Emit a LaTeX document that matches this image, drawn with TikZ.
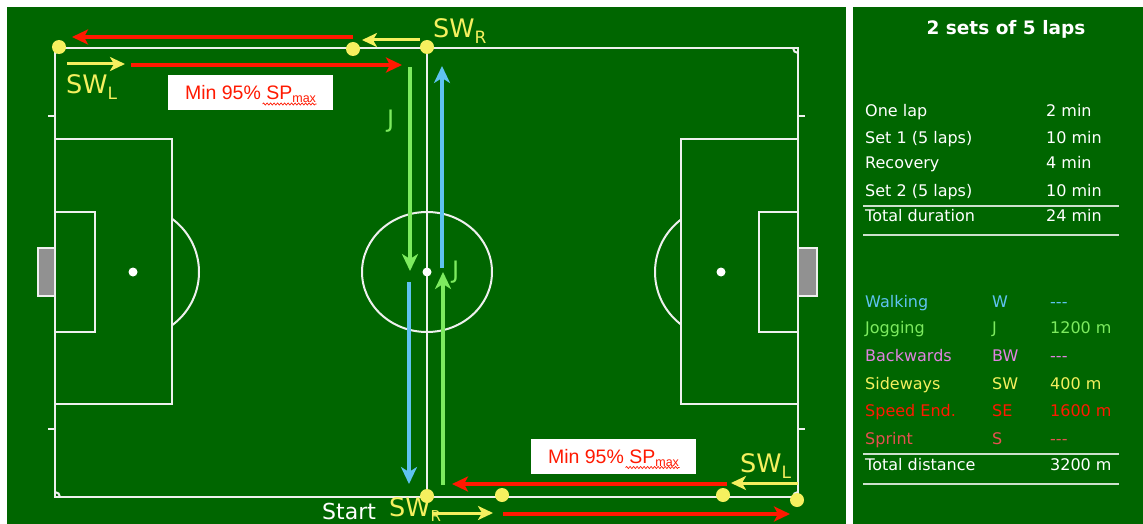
\documentclass[tikz,border=0pt]{standalone}
\usepackage{fontspec}
\setmainfont{DejaVu Sans}
\newfontfamily\arialfont{Liberation Sans}
\usetikzlibrary{arrows.meta,positioning,decorations.pathmorphing}

\definecolor{pitchgreen}{RGB}{0,102,0}
\definecolor{linewhite}{RGB}{238,240,238}
\definecolor{goalgrey}{RGB}{145,145,145}
\definecolor{walkblue}{RGB}{95,195,240}
\definecolor{joggreen}{RGB}{125,235,95}
\definecolor{bwviolet}{RGB}{225,130,225}
\definecolor{swyellow}{RGB}{245,240,95}
\definecolor{sered}{RGB}{255,25,0}
\definecolor{sprintred}{RGB}{230,80,80}
\definecolor{rulegrey}{RGB}{205,225,205}

\newcommand{\swlabel}[1]{SW\raisebox{-6pt}{\fontsize{17}{17}\selectfont #1}}
\newcommand{\minspeed}{\arialfont\fontsize{19.5}{23}\selectfont\color{sered}Min 95\% SP\raisebox{-3pt}{\fontsize{12.5}{12.5}\selectfont max}}

\tikzset{
	pitchline/.style={draw=linewhite, line width=2pt},
	sprintarrow/.style={draw=sered, line width=4pt, -{Stealth[length=16pt,width=15pt,inset=4pt]}},
	sidearrow/.style={draw=swyellow, line width=3pt, -{Stealth[length=15pt,width=14pt,inset=4pt]}},
	jogarrow/.style={draw=joggreen, line width=3.5pt, -{Stealth[length=17pt,width=16pt,inset=5pt]}},
	walkarrow/.style={draw=walkblue, line width=3.5pt, -{Stealth[length=17pt,width=16pt,inset=5pt]}},
	cone/.style={circle, fill=swyellow, inner sep=0pt, minimum size=14pt},
	minbox/.style={fill=white, inner sep=0pt, minimum width=165pt, minimum height=35pt, text height=16pt, text depth=1pt},
	squiggle/.style={draw=sered, line width=0.7pt, decorate, decoration={snake, amplitude=1pt, segment length=3.5pt}},
	fieldtext/.style={anchor=base west, inner sep=0pt, font=\fontsize{25.5}{30}\selectfont},
	panelrow/.style={anchor=base west, inner sep=0pt, text=white, font=\fontsize{16}{19}\selectfont},
	panelrule/.style={draw=rulegrey, line width=1.2pt}
}

\begin{document}
\begin{tikzpicture}[x=1pt,y=-1pt]
	\useasboundingbox (0,0) rectangle (1143,524);
	\fill[white] (0,0) rectangle (1143,524);
	\fill[pitchgreen] (7,7) rectangle (846,524);
	\fill[pitchgreen] (853,7) rectangle (1143,524);

	% pitch
	\fill[goalgrey,draw=linewhite,line width=1.5pt] (38,248) rectangle (55,296);
	\fill[goalgrey,draw=linewhite,line width=1.5pt] (798,248) rectangle (817,296);
	\draw[pitchline] (55,48) rectangle (798,497);
	\draw[pitchline] (427,48) -- (427,497);
	\draw[pitchline] (427,272) ellipse [x radius=65, y radius=60];
	\draw[pitchline] (55,139) rectangle (172,404);
	\draw[pitchline] (55,212) rectangle (95,332);
	\draw[pitchline] (681,139) rectangle (798,404);
	\draw[pitchline] (759,212) rectangle (798,332);
	\draw[pitchline] (48,116) -- (55,116);
	\draw[pitchline] (48,429) -- (55,429);
	\draw[pitchline] (798,116) -- (805,116);
	\draw[pitchline] (798,429) -- (805,429);
	\begin{scope}
		\clip (172,0) rectangle (300,524);
		\draw[pitchline] (133,272) circle [radius=66];
	\end{scope}
	\begin{scope}
		\clip (560,0) rectangle (681,524);
		\draw[pitchline] (721,272) circle [radius=66];
	\end{scope}
	\begin{scope}
		\clip (55,48) rectangle (798,497);
		\draw[pitchline] (55,48) circle [radius=5];
		\draw[pitchline] (798,48) circle [radius=5];
		\draw[pitchline] (55,497) circle [radius=5];
		\draw[pitchline] (798,497) circle [radius=5];
	\end{scope}
	\fill[white] (427,272) circle [radius=4.5];
	\fill[white] (133,272) circle [radius=4.5];
	\fill[white] (721,272) circle [radius=4.5];

	% boxes
	\node[minbox] (boxTop) at (250.5,92.5) {\minspeed};
	\node[minbox] (boxBot) at (613.5,456) {\minspeed};
	\draw[squiggle] ([shift={(12,11.5)}]boxTop.center) -- ([shift={(66,11.5)}]boxTop.center);
	\draw[squiggle] ([shift={(12,11.5)}]boxBot.center) -- ([shift={(66,11.5)}]boxBot.center);

	% runs
	\coordinate (redTopS) at (353,37);
	\coordinate (redTopE) at (72,37);
	\coordinate (swTopS) at (420,40);
	\coordinate (swTopE) at (362,40);
	\coordinate (swLeftS) at (67,64);
	\coordinate (swLeftE) at (125,64);
	\coordinate (redMidS) at (131,65);
	\coordinate (redMidE) at (402,65);
	\coordinate (jogTopS) at (410,67);
	\coordinate (jogTopE) at (410,271);
	\coordinate (walkUpS) at (442,268);
	\coordinate (walkUpE) at (442,66);
	\coordinate (walkDnS) at (409,282);
	\coordinate (walkDnE) at (409,484);
	\coordinate (jogUpS) at (443,485);
	\coordinate (jogUpE) at (443,272);
	\coordinate (redBotS) at (727,484);
	\coordinate (redBotE) at (452,484);
	\coordinate (swBotS) at (798,483);
	\coordinate (swBotE) at (731,483);
	\coordinate (swStartS) at (433,513);
	\coordinate (swStartE) at (493,513);
	\coordinate (redEndS) at (503,514);
	\coordinate (redEndE) at (790,514);

	\draw[sprintarrow] (redTopS) -- (redTopE);
	\draw[sidearrow] (swTopS) -- (swTopE);
	\draw[sidearrow] (swLeftS) -- (swLeftE);
	\draw[sprintarrow] (redMidS) -- (redMidE);
	\draw[jogarrow] (jogTopS) -- (jogTopE);
	\draw[walkarrow] (walkUpS) -- (walkUpE);
	\draw[walkarrow] (walkDnS) -- (walkDnE);
	\draw[jogarrow] (jogUpS) -- (jogUpE);
	\draw[sprintarrow] (redBotS) -- (redBotE);
	\draw[sidearrow] (swBotS) -- (swBotE);
	\draw[sidearrow] (swStartS) -- (swStartE);
	\draw[sprintarrow] (redEndS) -- (redEndE);

	\node[cone] (dotTL) at (59,47) {};
	\node[cone] (dotTM) at (353,49) {};
	\node[cone] (dotTR) at (427,47) {};
	\node[cone] (dotBL) at (427,496) {};
	\node[cone] (dotBM) at (502,495) {};
	\node[cone] (dotBR) at (723,495) {};
	\node[cone] (dotBC) at (797,500) {};

	% field labels
	\node[fieldtext,text=swyellow] (swrTop) at (433,38) {\swlabel{R}};
	\node[fieldtext,text=swyellow] (swlTop) at (66,94) {\swlabel{L}};
	\node[fieldtext,text=swyellow] (swlBot) at (740,472) {\swlabel{L}};
	\node[fieldtext,text=white,font=\fontsize{22}{26}\selectfont] (start) at (322,519) {Start};
	\node[fieldtext,text=swyellow] (swrBot) at (389,516) {SW\raisebox{-5pt}{\fontsize{15}{15}\selectfont R}};
	\node[fieldtext,text=joggreen,font=\fontsize{24}{28}\selectfont] (jTop) at (387,128) {J};
	\node[fieldtext,text=joggreen,font=\fontsize{24}{28}\selectfont] (jMid) at (452,278) {J};

	% panel
	\node[anchor=base, inner sep=0pt, text=white, font=\fontsize{18.5}{22}\selectfont\bfseries] (title) at (1006,35) {2 sets of 5 laps};
	\node[panelrow] (lap) at (865,117) {One lap};
	\node[panelrow] (lapT) at (1046,117) {2 min};
	\node[panelrow] (set1) at (865,143) {Set 1 (5 laps)};
	\node[panelrow] (set1T) at (1046,143) {10 min};
	\node[panelrow] (rec) at (865,168) {Recovery};
	\node[panelrow] (recT) at (1046,168) {4 min};
	\node[panelrow] (set2) at (865,196) {Set 2 (5 laps)};
	\node[panelrow] (set2T) at (1046,196) {10 min};
	\draw[panelrule] (863,206) -- (1119,206);
	\node[panelrow] (dur) at (865,221) {Total duration};
	\node[panelrow] (durT) at (1046,221) {24 min};
	\draw[panelrule] (863,235) -- (1119,235);

	\node[panelrow,text=walkblue] (walk) at (865,307) {Walking};
	\node[panelrow,text=walkblue] (walkA) at (992,307) {W};
	\node[panelrow,text=walkblue] (walkD) at (1050,307) {-{}-{}-};
	\node[panelrow,text=joggreen] (jog) at (865,333) {Jogging};
	\node[panelrow,text=joggreen] (jogA) at (992,333) {J};
	\node[panelrow,text=joggreen] (jogD) at (1050,333) {1200 m};
	\node[panelrow,text=bwviolet] (bw) at (865,361) {Backwards};
	\node[panelrow,text=bwviolet] (bwA) at (992,361) {BW};
	\node[panelrow,text=bwviolet] (bwD) at (1050,361) {-{}-{}-};
	\node[panelrow,text=swyellow] (sw) at (865,389) {Sideways};
	\node[panelrow,text=swyellow] (swA) at (992,389) {SW};
	\node[panelrow,text=swyellow] (swD) at (1050,389) {400 m};
	\node[panelrow,text=sered] (se) at (865,416) {Speed End.};
	\node[panelrow,text=sered] (seA) at (992,416) {SE};
	\node[panelrow,text=sered] (seD) at (1050,416) {1600 m};
	\node[panelrow,text=sprintred] (spr) at (865,444) {Sprint};
	\node[panelrow,text=sprintred] (sprA) at (992,444) {S};
	\node[panelrow,text=sprintred] (sprD) at (1050,444) {-{}-{}-};
	\draw[panelrule] (863,454) -- (1119,454);
	\node[panelrow] (dist) at (865,470) {Total distance};
	\node[panelrow] (distD) at (1050,470) {3200 m};
	\draw[panelrule] (863,484) -- (1119,484);
\end{tikzpicture}
\end{document}
